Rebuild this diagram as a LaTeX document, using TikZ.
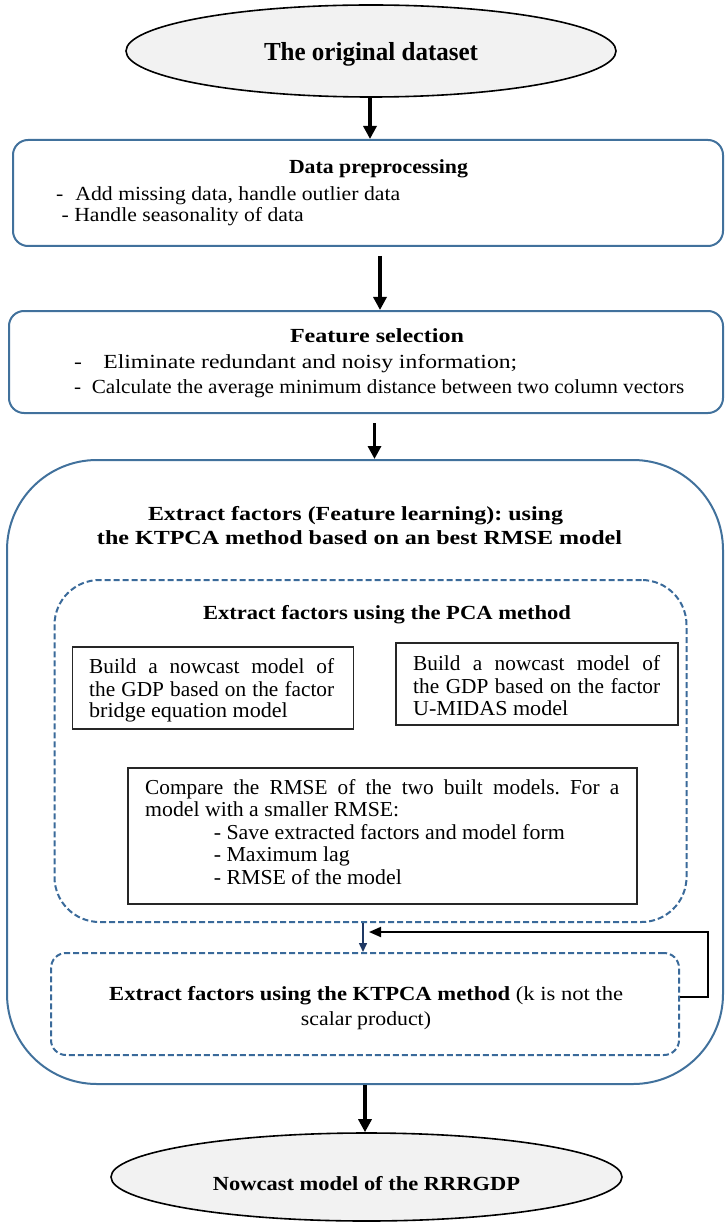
\documentclass[tikz,border=0pt]{standalone}
\usepackage{fontspec}
\setmainfont{Liberation Serif}
\usetikzlibrary{shapes.geometric,arrows.meta}
\definecolor{boxblue}{HTML}{41719C}
\definecolor{dashblue}{HTML}{3A6A9A}
\definecolor{navyc}{HTML}{1F3864}
\definecolor{ellgray}{HTML}{F2F2F2}
\newcommand\fitw[2]{\resizebox{#1}{\height}{#2}}
\newcommand\bodyf{\fontsize{20}{22.5}\selectfont}
\newcommand\boxf{\fontsize{21.3}{22.5}\selectfont}
\newcommand\titf{\fontsize{20}{24}\selectfont\bfseries}
\frenchspacing
\begin{document}
\begin{tikzpicture}[x=1pt,y=-1pt,
  ell/.style={ellipse, draw=black, line width=1.6pt, fill=ellgray, inner sep=0pt},
  bluebox/.style={draw=boxblue, line width=2pt, rounded corners=15pt, inner sep=0pt},
  dashbox/.style={draw=dashblue, line width=2pt, dash pattern=on 6pt off 3pt, inner sep=0pt},
  plainbox/.style={draw=black!85, line width=1.3pt, inner sep=0pt},
  txt/.style={inner sep=0pt, font=\bodyf},
  btxt/.style={inner sep=0pt, font=\boxf},
  ttl/.style={inner sep=0pt, font=\titf},
  bigarrow/.style={-{Triangle[width=13pt,length=13pt]}, line width=3.2pt, black},
  fbarrow/.style={-{Triangle[width=10pt,length=12pt]}, line width=2pt, black},
  navyarrow/.style={-{Triangle[width=8pt,length=9pt]}, line width=1.5pt, navyc}
]
\useasboundingbox (0,0) rectangle (725,1222);

% shapes
\node[ell, minimum width=490pt, minimum height=92pt] (orig) at (371,51) {};
\node[bluebox, minimum width=710pt, minimum height=106pt] (box1) at (368,193) {};
\node[bluebox, minimum width=714pt, minimum height=102pt] (box2) at (366,362) {};
\node[bluebox, rounded corners=90pt, minimum width=716pt, minimum height=624pt] (big) at (365,772) {};
\node[dashbox, rounded corners=45pt, minimum width=632pt, minimum height=342pt] (dash1) at (370.5,751) {};
\node[plainbox, minimum width=281pt, minimum height=82pt] (boxA) at (213,688) {};
\node[plainbox, minimum width=282pt, minimum height=82pt] (boxB) at (537,684) {};
\node[plainbox, minimum width=509pt, minimum height=136pt] (boxC) at (382.5,836) {};
\node[dashbox, rounded corners=15pt, minimum width=628pt, minimum height=102pt] (dash2) at (365,1004) {};
\node[ell, minimum width=511pt, minimum height=88pt] (now) at (366.5,1177) {};

% texts
\node[inner sep=0pt, anchor=base, font=\fontsize{26}{30}\selectfont\bfseries] (t0) at (371,61) {\fitw{214pt}{The original dataset}};

\node[ttl, anchor=base] (t1) at (378.5,174) {\fitw{179pt}{Data preprocessing}};
\node[txt, anchor=base west] (t1a) at (56,201) {\fitw{344pt}{-\hspace{0.55em}Add missing data, handle outlier data}};
\node[txt, anchor=base west] (t1b) at (61.5,222) {\fitw{242pt}{- Handle seasonality of data}};

\node[ttl, anchor=base] (t2) at (377,342.7) {\fitw{174pt}{Feature selection}};
\node[txt, anchor=base west] (t2a) at (74,368) {\fitw{443pt}{-\hspace{0.9em}Eliminate redundant and noisy information;}};
\node[txt, anchor=base west] (t2b) at (74,393) {\fitw{610pt}{-\hspace{0.5em}Calculate the average minimum distance between two column vectors}};

\node[ttl, anchor=base] (t3a) at (355.5,520) {\fitw{415pt}{Extract factors (Feature learning): using}};
\node[ttl, anchor=base] (t3b) at (359.5,544) {\fitw{525pt}{the KTPCA method based on an best RMSE model}};

\node[ttl, anchor=base] (t4) at (387,619) {\fitw{368pt}{Extract factors using the PCA method}};

\node[btxt, anchor=base west] (tA1) at (89,673) {\makebox[245pt][s]{Build a nowcast model of}};
\node[btxt, anchor=base west] (tA2) at (89,696) {\makebox[245pt][s]{the GDP based on the factor}};
\node[btxt, anchor=base west] (tA3) at (89,717) {\fitw{198.6pt}{bridge equation model}};

\node[btxt, anchor=base west] (tB1) at (413,670.7) {\makebox[247pt][s]{Build a nowcast model of}};
\node[btxt, anchor=base west] (tB2) at (413,693) {\makebox[247pt][s]{the GDP based on the factor}};
\node[btxt, anchor=base west] (tB3) at (413,715) {\fitw{155pt}{U-MIDAS model}};

\node[btxt, anchor=base west] (tC1) at (145,794) {\makebox[474pt][s]{Compare the RMSE of the two built models. For a}};
\node[btxt, anchor=base west] (tC2) at (145,816.7) {\fitw{254pt}{model with a smaller RMSE:}};
\node[btxt, anchor=base west] (tC3) at (213.6,839) {\fitw{351pt}{- Save extracted factors and model form}};
\node[btxt, anchor=base west] (tC4) at (213.6,861.7) {\fitw{136pt}{- Maximum lag}};
\node[btxt, anchor=base west] (tC5) at (213.6,884) {\fitw{188pt}{- RMSE of the model}};

\node[txt, anchor=base west] (tK1) at (109,1000) {\fitw{514pt}{\textbf{Extract factors using the KTPCA method} (k is not the}};
\node[txt, anchor=base] (tK2) at (366,1025) {\fitw{130pt}{scalar product)}};

\node[ttl, anchor=base] (t5) at (366.5,1190) {\fitw{307pt}{Nowcast model of the RRRGDP}};

% connectors
\coordinate (a1s) at ([xshift=-1pt]orig.south);
\draw[bigarrow] (a1s) -- (a1s |- box1.north);
\coordinate (a2s) at ([xshift=12pt,yshift=-9pt]box1.south);
\draw[bigarrow] (a2s) -- (a2s |- box2.north);
\coordinate (a3s) at ([xshift=8.5pt,yshift=-9pt]box2.south);
\draw[bigarrow] (a3s) -- (a3s |- big.north);
\draw[bigarrow] (big.south) -- (big.south |- now.north);
\coordinate (ns) at ([xshift=-7.5pt]dash1.south);
\draw[navyarrow] (ns) -- (ns |- dash2.north);
\coordinate (fbs) at ([yshift=7pt]dash2.east);
\coordinate (fbt) at (369,932);
\draw[fbarrow] (fbs) -- ++(28,0) |- (fbt);
\end{tikzpicture}
\end{document}
